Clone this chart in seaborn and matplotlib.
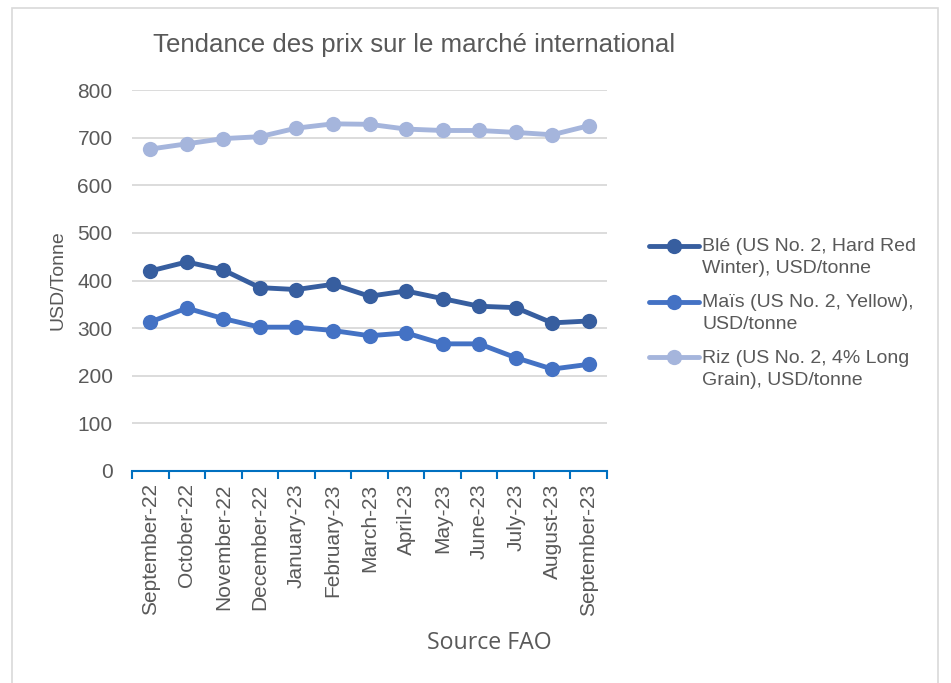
import numpy as np
import pandas as pd
import matplotlib
matplotlib.use("Agg")
import matplotlib.pyplot as plt
import seaborn as sns
from matplotlib.patches import Rectangle
from matplotlib.legend_handler import HandlerLine2D

# --- Données ---
mois = ["September-22", "October-22", "November-22", "December-22", "January-23",
        "February-23", "March-23", "April-23", "May-23", "June-23", "July-23",
        "August-23", "September-23"]

ble = [420, 439, 422, 385, 381, 392, 367, 378, 362, 346, 343, 311, 315]
mais = [313, 342, 320, 302, 302, 295, 284, 290, 267, 267, 238, 214, 224]
riz = [676, 687, 698, 702, 720, 729, 728, 718, 715, 715, 711, 706, 725]

noms_series = ["Blé (US No. 2, Hard Red\nWinter), USD/tonne",
               "Maïs (US No. 2, Yellow),\nUSD/tonne",
               "Riz (US No. 2, 4% Long\nGrain), USD/tonne"]
couleurs = ["#375E9F", "#4472C4", "#A5B5DC"]

df = pd.DataFrame({"Mois": mois, noms_series[0]: ble,
                   noms_series[1]: mais, noms_series[2]: riz})
df["x"] = range(len(mois))
df_long = df.melt(id_vars=["Mois", "x"], var_name="Serie", value_name="Prix")

sns.set_theme(style="white")
plt.rcParams["font.family"] = ["Liberation Sans", "DejaVu Sans"]
gris = "#595959"


# symbole de légende aligné sur la première ligne du texte (comme Excel)
class HandlerHaut(HandlerLine2D):
    def create_artists(self, legend, orig_handle, xdescent, ydescent,
                       width, height, fontsize, trans):
        artists = super().create_artists(legend, orig_handle, xdescent, ydescent,
                                         width, height, fontsize, trans)
        for a in artists:
            a.set_ydata(np.asarray(a.get_ydata()) + 0.6 * fontsize)
        return artists


fig = plt.figure(figsize=(9.51, 6.83), dpi=100)
ax = fig.add_axes([0.1388, 0.3104, 0.4995, 0.5578])

sns.lineplot(data=df_long, x="x", y="Prix", hue="Serie", hue_order=noms_series,
             palette=couleurs, marker="o", markersize=11, markeredgewidth=0,
             linewidth=3.5, ax=ax)

ax.set_xlim(-0.5, len(mois) - 0.5)
ax.set_ylim(0, 800)
ax.set_yticks(range(0, 801, 100))
ax.yaxis.grid(True, color="#D9D9D9", linewidth=1.3)
ax.set_axisbelow(True)

# graduations entre les catégories, style Excel
ax.set_xticks([i - 0.5 for i in range(len(mois) + 1)])
ax.set_xticklabels([])
ax.set_xticks(range(len(mois)), minor=True)
ax.set_xticklabels(mois, minor=True, rotation=90, fontsize=15, color=gris)
ax.tick_params(axis="x", which="major", length=6, width=1.5, color="#0070C0",
               direction="out", bottom=True)
ax.tick_params(axis="x", which="minor", length=0, pad=9)
ax.tick_params(axis="y", length=0, pad=14, labelsize=15, labelcolor=gris)

for side in ["top", "right", "left"]:
    ax.spines[side].set_visible(False)
ax.spines["bottom"].set_color("#0070C0")
ax.spines["bottom"].set_linewidth(1.5)

ax.set_xlabel("")
ax.set_ylabel("USD/Tonne", fontsize=14, color=gris, labelpad=8)

fig.text(0.4353, 0.934, "Tendance des prix sur le marché international",
         ha="center", va="center", fontsize=18.6, color=gris)
fig.text(0.515, 0.058, "Source FAO", ha="center", va="center",
         fontsize=16.7, color=gris, family=["Open Sans", "DejaVu Sans"])

ax.get_legend().remove()
handles, labels = ax.get_legend_handles_labels()
leg = fig.legend(handles, labels, loc="center left", bbox_to_anchor=(0.6636, 0.541),
                 frameon=False, fontsize=14, labelcolor=gris, handlelength=2.6,
                 handletextpad=0.15, labelspacing=0.85,
                 handler_map={h: HandlerHaut() for h in handles})
for t in leg.get_texts():
    t.set_linespacing(1.4)

# cadre extérieur du graphique
fig.patches.append(Rectangle((0.013, -0.01), 0.973, 0.998, transform=fig.transFigure,
                             fill=False, edgecolor="#D9D9D9", linewidth=1.2))

fig.savefig("out.png", dpi=100)
